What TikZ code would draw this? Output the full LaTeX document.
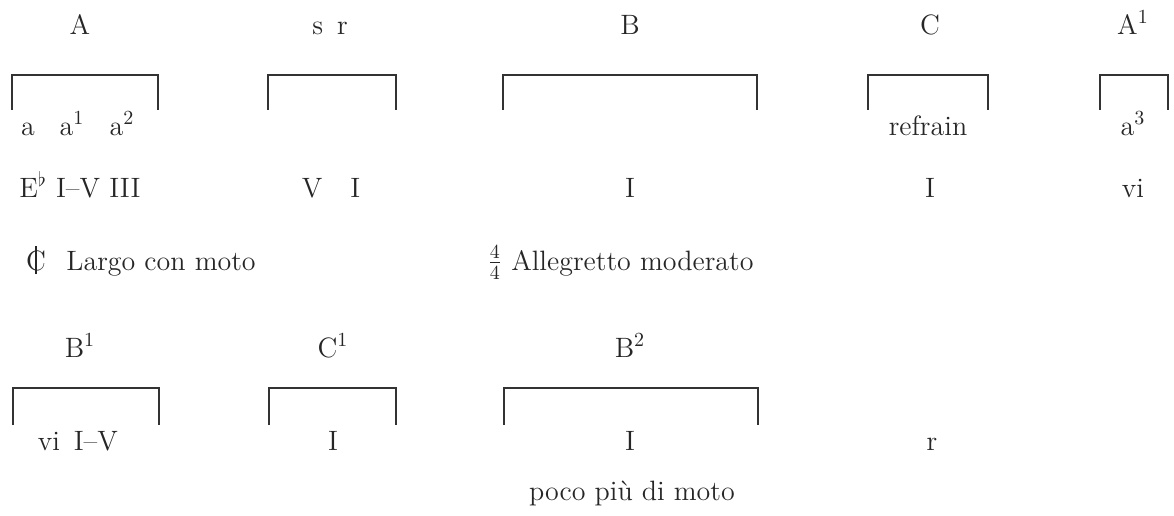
\documentclass[tikz,border=0pt]{standalone}
\usepackage{fontspec}
\begin{document}
\begin{tikzpicture}[x=0.5pt,y=-0.5pt,
  txt/.style={anchor=base, inner sep=0pt, text=black!85, font=\fontsize{14}{16}\selectfont},
  lft/.style={txt, anchor=base west},
  brk/.style={line width=0.8pt, draw=black!80, line cap=butt}]
\useasboundingbox (0,0) rectangle (1174,515);

% section letters
\node[txt] (A)  at (80,34)   {A};
\node[txt] (sr) at (330,34)  {s\enspace r};
\node[txt] (B)  at (630,34)  {B};
\node[txt] (C)  at (930,34)  {C};
\node[txt] (A1) at (1133,34) {A$^1$};

% brackets, first system
\draw[brk] (12,110)  |- (158,75)  -- (158,110);
\draw[brk] (268,110) |- (396,75)  -- (396,110);
\draw[brk] (503,110) |- (757,75)  -- (757,110);
\draw[brk] (868,110) |- (988,75)  -- (988,110);
\draw[brk] (1100,110)|- (1168,75) -- (1168,110);

% phrase labels
\node[txt] (a0) at (28,135)   {a};
\node[txt] (a1) at (72,135)   {a$^1$};
\node[txt] (a2) at (122,135)  {a$^2$};
\node[txt] (rf) at (928,135)  {refrain};
\node[txt] (a3) at (1133,135) {a$^3$};

% harmony
\node[txt] (hA)  at (80,197)   {E$^\flat$ I--V III};
\node[txt] (hsr) at (331,197)  {V\quad I};
\node[txt] (hB)  at (630,197)  {I};
\node[txt] (hC)  at (930,197)  {I};
\node[txt] (hA1) at (1133,197) {vi};

% tempo markings
\node[txt] (cut) at (36,270) {C};
\draw[line width=0.6pt, black!85] ([yshift=-7pt]cut.center) -- ([yshift=7pt]cut.center);
\node[lft] (largo) at (66,270) {Largo con moto};
\node[lft] (alleg) at (487,270) {$\frac{4}{4}$ Allegretto moderato};

% second system
\node[txt] (B1) at (80,357)  {B$^1$};
\node[txt] (C1) at (333,357) {C$^1$};
\node[txt] (B2) at (630,357) {B$^2$};

\draw[brk] (13,425)  |- (159,388) -- (159,425);
\draw[brk] (269,425) |- (396,388) -- (396,425);
\draw[brk] (504,425) |- (758,388) -- (758,425);

\node[txt] (hB1) at (78,450)  {vi\, I--V};
\node[txt] (hC1) at (333,450) {I};
\node[txt] (hB2) at (630,450) {I};
\node[txt] (r)   at (932,450) {r};

\node[txt] (poco) at (632,500) {poco più di moto};
\end{tikzpicture}
\end{document}
